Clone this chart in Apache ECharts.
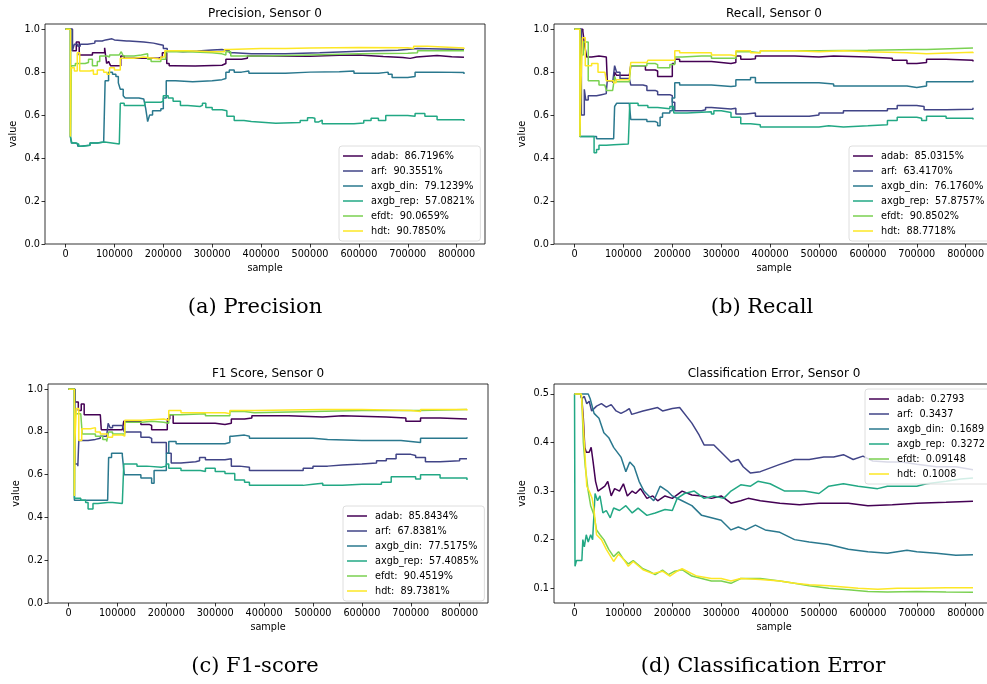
<!DOCTYPE html>
<html>
<head>
<meta charset="utf-8">
<script src="https://cdn.jsdelivr.net/npm/echarts@6/dist/echarts.min.js"></script>
<style>
  html, body { margin: 0; padding: 0; background: #fff; }
  #chart { width: 987px; height: 684px; }
</style>
</head>
<body>
<div id="chart"></div>
<script>
// model names and legend texts
const models = ['adab', 'arf', 'axgb_din', 'axgb_rep', 'efdt', 'hdt']
const colors = ['#440154', '#414487', '#2a788e', '#22a884', '#7ad151', '#fde725']

const precLabels = ['adab:  86.7196%', 'arf:  90.3551%', 'axgb_din:  79.1239%', 'axgb_rep:  57.0821%', 'efdt:  90.0659%', 'hdt:  90.7850%']
const recLabels = ['adab:  85.0315%', 'arf:  63.4170%', 'axgb_din:  76.1760%', 'axgb_rep:  57.8757%', 'efdt:  90.8502%', 'hdt:  88.7718%']
const f1Labels = ['adab:  85.8434%', 'arf:  67.8381%', 'axgb_din:  77.5175%', 'axgb_rep:  57.4085%', 'efdt:  90.4519%', 'hdt:  89.7381%']
const errLabels = ['adab:  0.2793', 'arf:  0.3437', 'axgb_din:  0.1689', 'axgb_rep:  0.3272', 'efdt:  0.09148', 'hdt:  0.1008']

const xTicks = [0, 100000, 200000, 300000, 400000, 500000, 600000, 700000, 800000]
const scoreTicks = [0, 0.2, 0.4, 0.6, 0.8, 1.0]
const errTicks = [0.1, 0.2, 0.3, 0.4, 0.5]

// Precision
const precAdab = [[0,1],[14000,0.9],[22000,0.94],[28000,0.88],[55000,0.89],[80000,0.913],[84000,0.84],[88000,0.85],[92000,0.83],[113000,0.875],[120000,0.865],[190000,0.87],[198000,0.89],[207000,0.84],[212000,0.83],[220000,0.828],[265000,0.832],[320000,0.84],[328000,0.86],[360000,0.865],[372000,0.875],[420000,0.874],[500000,0.878],[560000,0.88],[600000,0.873],[650000,0.868],[690000,0.864],[705000,0.87],[718000,0.877],[760000,0.872],[790000,0.869],[815000,0.867]]
const precArf = [[0,1],[14000,0.9],[18000,0.93],[25000,0.92],[30000,0.93],[45000,0.935],[60000,0.945],[75000,0.95],[82000,0.955],[95000,0.95],[100000,0.945],[125000,0.945],[130000,0.94],[160000,0.935],[180000,0.93],[190000,0.925],[200000,0.91],[208000,0.9],[215000,0.895],[240000,0.898],[270000,0.903],[300000,0.905],[320000,0.9],[335000,0.89],[345000,0.885],[380000,0.885],[450000,0.89],[520000,0.897],[600000,0.902],[680000,0.91],[720000,0.905],[815000,0.904]]
const precDin = [[0,1],[10000,0.5],[12000,0.47],[20000,0.465],[25000,0.455],[30000,0.46],[50000,0.47],[65000,0.475],[78000,0.47],[81000,0.76],[88000,0.8],[96000,0.79],[103000,0.78],[108000,0.75],[112000,0.72],[118000,0.69],[122000,0.68],[150000,0.675],[160000,0.68],[164000,0.63],[168000,0.57],[172000,0.6],[178000,0.62],[195000,0.63],[200000,0.68],[206000,0.76],[225000,0.755],[260000,0.76],[300000,0.765],[320000,0.77],[328000,0.8],[335000,0.81],[345000,0.8],[360000,0.805],[375000,0.795],[450000,0.8],[500000,0.802],[560000,0.805],[590000,0.795],[640000,0.8],[660000,0.79],[668000,0.775],[700000,0.78],[715000,0.8],[760000,0.798],[815000,0.791]]
const precRep = [[0,1],[10000,0.5],[13000,0.47],[22000,0.465],[27000,0.455],[35000,0.46],[50000,0.47],[65000,0.475],[80000,0.47],[95000,0.465],[110000,0.47],[112000,0.655],[120000,0.645],[150000,0.645],[162000,0.66],[195000,0.665],[200000,0.69],[210000,0.68],[220000,0.665],[235000,0.645],[250000,0.64],[275000,0.645],[280000,0.655],[287000,0.635],[300000,0.625],[320000,0.62],[330000,0.595],[345000,0.575],[365000,0.57],[380000,0.562],[430000,0.565],[480000,0.575],[495000,0.588],[505000,0.585],[510000,0.568],[518000,0.577],[525000,0.56],[590000,0.563],[610000,0.575],[625000,0.585],[640000,0.575],[655000,0.598],[700000,0.595],[715000,0.607],[735000,0.595],[760000,0.578],[815000,0.572]]
const precEfdt = [[0,1],[10000,0.5],[12000,0.83],[20000,0.84],[40000,0.845],[47000,0.86],[55000,0.83],[65000,0.85],[70000,0.875],[85000,0.87],[90000,0.88],[110000,0.875],[114000,0.895],[118000,0.875],[140000,0.88],[155000,0.885],[168000,0.86],[175000,0.85],[195000,0.86],[205000,0.895],[250000,0.89],[300000,0.885],[320000,0.88],[328000,0.895],[338000,0.875],[400000,0.88],[500000,0.885],[600000,0.888],[700000,0.89],[720000,0.9],[815000,0.901]]
const precHdt = [[0,1],[10000,0.5],[11000,0.82],[18000,0.805],[24000,0.89],[29000,0.805],[50000,0.81],[57000,0.79],[65000,0.81],[78000,0.8],[85000,0.79],[90000,0.82],[100000,0.81],[112000,0.865],[140000,0.87],[160000,0.865],[180000,0.86],[195000,0.87],[203000,0.9],[250000,0.895],[300000,0.895],[325000,0.905],[335000,0.91],[400000,0.91],[450000,0.912],[500000,0.915],[600000,0.913],[700000,0.91],[712000,0.92],[740000,0.912],[815000,0.908]]

// Recall
const recAdab = [[0,1],[17000,0.99],[21000,0.92],[25000,0.87],[35000,0.875],[50000,0.87],[65000,0.865],[67000,0.76],[80000,0.76],[82000,0.8],[86000,0.785],[112000,0.785],[115000,0.83],[140000,0.83],[145000,0.81],[165000,0.805],[170000,0.78],[195000,0.78],[200000,0.84],[205000,0.86],[215000,0.85],[260000,0.85],[280000,0.845],[300000,0.84],[320000,0.845],[330000,0.875],[340000,0.86],[360000,0.862],[370000,0.875],[450000,0.87],[500000,0.875],[530000,0.87],[600000,0.865],[650000,0.855],[680000,0.84],[700000,0.845],[720000,0.86],[760000,0.855],[815000,0.85]]
const recArf = [[0,1],[14000,0.6],[20000,0.72],[23000,0.67],[28000,0.69],[45000,0.695],[55000,0.7],[65000,0.71],[67000,0.76],[78000,0.75],[82000,0.83],[86000,0.8],[93000,0.77],[112000,0.77],[115000,0.74],[140000,0.735],[148000,0.715],[165000,0.71],[170000,0.695],[195000,0.69],[200000,0.66],[205000,0.62],[230000,0.62],[260000,0.625],[268000,0.635],[280000,0.628],[320000,0.632],[330000,0.605],[350000,0.61],[370000,0.595],[450000,0.595],[480000,0.6],[500000,0.61],[550000,0.62],[600000,0.62],[640000,0.63],[660000,0.645],[700000,0.64],[715000,0.625],[760000,0.627],[815000,0.634]]
const recDin = [[0,1],[11000,0.5],[40000,0.5],[45000,0.49],[80000,0.495],[82000,0.64],[86000,0.655],[112000,0.65],[115000,0.58],[140000,0.58],[148000,0.57],[165000,0.565],[170000,0.55],[175000,0.59],[180000,0.61],[195000,0.62],[200000,0.68],[205000,0.75],[215000,0.74],[260000,0.74],[280000,0.733],[320000,0.735],[330000,0.765],[360000,0.775],[370000,0.75],[450000,0.75],[500000,0.745],[530000,0.735],[600000,0.735],[650000,0.735],[680000,0.728],[700000,0.735],[720000,0.755],[815000,0.762]]
const recRep = [[0,1],[11000,0.5],[35000,0.5],[40000,0.425],[45000,0.44],[50000,0.46],[65000,0.462],[80000,0.465],[110000,0.47],[113000,0.655],[130000,0.645],[150000,0.635],[170000,0.63],[195000,0.64],[203000,0.61],[230000,0.615],[280000,0.605],[285000,0.62],[300000,0.612],[320000,0.59],[340000,0.56],[360000,0.555],[380000,0.545],[450000,0.545],[500000,0.55],[520000,0.545],[550000,0.55],[600000,0.555],[640000,0.575],[660000,0.59],[700000,0.585],[710000,0.575],[720000,0.595],[760000,0.585],[815000,0.579]]
const recEfdt = [[0,1],[11000,0.5],[13000,0.88],[18000,0.94],[28000,0.76],[45000,0.76],[50000,0.74],[62000,0.74],[65000,0.715],[78000,0.72],[82000,0.78],[86000,0.755],[112000,0.75],[115000,0.83],[148000,0.84],[165000,0.835],[170000,0.82],[195000,0.835],[205000,0.87],[220000,0.875],[260000,0.875],[280000,0.865],[320000,0.865],[330000,0.895],[360000,0.89],[380000,0.9],[500000,0.902],[600000,0.905],[700000,0.905],[720000,0.912],[815000,0.909]]
const recHdt = [[0,1],[11000,0.5],[13000,0.73],[16000,0.96],[22000,0.83],[35000,0.84],[48000,0.8],[62000,0.8],[65000,0.76],[80000,0.75],[85000,0.765],[112000,0.76],[115000,0.845],[148000,0.845],[150000,0.855],[195000,0.855],[205000,0.9],[215000,0.89],[260000,0.89],[280000,0.88],[320000,0.875],[330000,0.9],[360000,0.89],[380000,0.9],[450000,0.895],[500000,0.9],[550000,0.895],[600000,0.89],[680000,0.885],[720000,0.893],[815000,0.888]]

// F1 score
const f1Adab = [[0,1],[13000,0.94],[20000,0.9],[26000,0.93],[32000,0.88],[65000,0.875],[67000,0.81],[110000,0.81],[113000,0.85],[140000,0.85],[148000,0.835],[165000,0.83],[170000,0.81],[195000,0.81],[202000,0.86],[207000,0.88],[214000,0.84],[280000,0.84],[300000,0.835],[320000,0.84],[333000,0.86],[360000,0.865],[375000,0.875],[450000,0.87],[520000,0.875],[560000,0.87],[650000,0.865],[690000,0.85],[705000,0.85],[720000,0.865],[760000,0.86],[815000,0.858]]
const f1Arf = [[0,1],[13000,0.65],[19000,0.64],[21000,0.76],[40000,0.765],[55000,0.77],[65000,0.78],[78000,0.78],[81000,0.84],[85000,0.82],[90000,0.83],[110000,0.835],[114000,0.8],[140000,0.8],[148000,0.775],[165000,0.77],[170000,0.75],[195000,0.75],[200000,0.7],[210000,0.655],[230000,0.66],[260000,0.665],[268000,0.68],[280000,0.67],[320000,0.675],[333000,0.64],[350000,0.635],[370000,0.62],[450000,0.62],[480000,0.63],[500000,0.64],[530000,0.645],[560000,0.65],[600000,0.655],[630000,0.665],[650000,0.675],[670000,0.695],[700000,0.69],[710000,0.68],[730000,0.66],[760000,0.665],[800000,0.675],[815000,0.678]]
const f1Din = [[0,1],[12000,0.48],[80000,0.48],[82000,0.68],[88000,0.7],[110000,0.69],[114000,0.6],[140000,0.6],[148000,0.585],[165000,0.585],[170000,0.56],[175000,0.62],[195000,0.62],[200000,0.7],[205000,0.755],[220000,0.745],[300000,0.745],[320000,0.75],[330000,0.78],[335000,0.785],[360000,0.78],[370000,0.77],[450000,0.77],[500000,0.765],[530000,0.76],[600000,0.76],[680000,0.755],[700000,0.75],[720000,0.77],[815000,0.775]]
const f1Rep = [[0,1],[12000,0.49],[25000,0.48],[35000,0.47],[40000,0.44],[50000,0.465],[60000,0.47],[80000,0.47],[90000,0.465],[110000,0.47],[113000,0.65],[140000,0.64],[160000,0.635],[190000,0.64],[200000,0.65],[205000,0.63],[230000,0.62],[270000,0.615],[280000,0.63],[300000,0.615],[320000,0.605],[340000,0.575],[360000,0.565],[370000,0.55],[450000,0.55],[480000,0.555],[500000,0.56],[520000,0.55],[560000,0.555],[600000,0.555],[640000,0.565],[660000,0.59],[700000,0.59],[710000,0.58],[720000,0.6],[760000,0.585],[815000,0.575]]
const f1Efdt = [[0,1],[12000,0.5],[13000,0.885],[25000,0.88],[28000,0.79],[45000,0.79],[55000,0.78],[70000,0.765],[78000,0.755],[82000,0.8],[90000,0.79],[110000,0.79],[115000,0.845],[150000,0.85],[170000,0.845],[195000,0.84],[205000,0.88],[230000,0.885],[280000,0.875],[320000,0.875],[330000,0.895],[360000,0.89],[380000,0.895],[500000,0.9],[600000,0.9],[700000,0.9],[720000,0.905],[815000,0.905]]
const f1Hdt = [[0,1],[12000,0.5],[13000,0.76],[16000,0.91],[21000,0.76],[27000,0.815],[45000,0.82],[55000,0.8],[65000,0.79],[80000,0.775],[90000,0.785],[110000,0.78],[115000,0.855],[150000,0.86],[195000,0.855],[205000,0.9],[230000,0.89],[320000,0.885],[330000,0.9],[380000,0.905],[520000,0.905],[600000,0.9],[700000,0.895],[720000,0.905],[815000,0.9]]

// Classification error
const errAdab = [[0,0.5],[12000,0.5],[15000,0.49],[18000,0.45],[21000,0.39],[24000,0.38],[30000,0.38],[34000,0.39],[38000,0.36],[43000,0.32],[48000,0.3],[55000,0.305],[62000,0.31],[68000,0.32],[75000,0.29],[82000,0.305],[92000,0.3],[100000,0.315],[108000,0.29],[118000,0.3],[125000,0.295],[135000,0.305],[148000,0.285],[160000,0.29],[170000,0.28],[185000,0.29],[200000,0.285],[220000,0.3],[240000,0.292],[260000,0.29],[280000,0.285],[300000,0.29],[320000,0.275],[340000,0.28],[355000,0.285],[380000,0.28],[420000,0.275],[460000,0.272],[500000,0.275],[560000,0.275],[600000,0.27],[650000,0.272],[700000,0.275],[760000,0.277],[815000,0.279]]
const errArf = [[0,0.5],[12000,0.5],[15000,0.49],[20000,0.495],[25000,0.48],[30000,0.485],[35000,0.465],[45000,0.475],[55000,0.48],[65000,0.473],[75000,0.478],[85000,0.465],[95000,0.46],[105000,0.465],[112000,0.47],[117000,0.458],[140000,0.465],[170000,0.472],[180000,0.465],[200000,0.47],[215000,0.472],[240000,0.44],[255000,0.415],[265000,0.395],[285000,0.395],[300000,0.38],[320000,0.36],[335000,0.365],[345000,0.35],[360000,0.337],[380000,0.34],[420000,0.355],[450000,0.365],[480000,0.365],[510000,0.37],[530000,0.37],[550000,0.375],[570000,0.365],[590000,0.372],[610000,0.362],[640000,0.36],[670000,0.36],[700000,0.355],[740000,0.35],[780000,0.35],[815000,0.344]]
const errDin = [[0,0.5],[28000,0.5],[32000,0.49],[40000,0.46],[50000,0.45],[60000,0.42],[70000,0.41],[80000,0.39],[95000,0.37],[105000,0.34],[113000,0.36],[122000,0.35],[132000,0.32],[142000,0.3],[152000,0.29],[162000,0.28],[175000,0.31],[190000,0.3],[200000,0.29],[220000,0.28],[240000,0.27],[260000,0.25],[280000,0.245],[300000,0.24],[320000,0.22],[335000,0.226],[350000,0.22],[370000,0.23],[390000,0.22],[420000,0.215],[450000,0.2],[480000,0.195],[520000,0.19],[560000,0.18],[600000,0.175],[640000,0.172],[680000,0.178],[700000,0.175],[740000,0.172],[780000,0.168],[815000,0.169]]
const errRep = [[0,0.5],[1000,0.145],[4000,0.157],[15000,0.157],[17000,0.2],[20000,0.185],[24000,0.21],[28000,0.195],[33000,0.21],[37000,0.2],[42000,0.295],[47000,0.28],[52000,0.29],[58000,0.255],[65000,0.26],[73000,0.245],[80000,0.265],[92000,0.26],[105000,0.27],[118000,0.255],[130000,0.265],[148000,0.25],[165000,0.255],[185000,0.262],[200000,0.26],[210000,0.285],[225000,0.295],[245000,0.3],[265000,0.285],[285000,0.29],[305000,0.285],[320000,0.3],[340000,0.313],[360000,0.31],[375000,0.32],[400000,0.315],[430000,0.3],[470000,0.3],[500000,0.295],[520000,0.31],[550000,0.315],[580000,0.31],[620000,0.305],[640000,0.31],[680000,0.31],[700000,0.31],[720000,0.315],[760000,0.32],[790000,0.325],[815000,0.327]]
const errEfdt = [[0,0.5],[12000,0.5],[15000,0.49],[18000,0.4],[22000,0.35],[28000,0.3],[33000,0.27],[40000,0.25],[45000,0.22],[52000,0.21],[60000,0.2],[70000,0.18],[80000,0.165],[90000,0.175],[100000,0.16],[110000,0.15],[120000,0.157],[140000,0.14],[152000,0.135],[165000,0.128],[180000,0.137],[192000,0.128],[205000,0.135],[220000,0.138],[240000,0.125],[260000,0.12],[280000,0.115],[300000,0.115],[320000,0.11],[340000,0.12],[380000,0.12],[420000,0.115],[450000,0.11],[480000,0.105],[520000,0.1],[560000,0.097],[600000,0.093],[640000,0.092],[700000,0.093],[760000,0.092],[815000,0.0915]]
const errHdt = [[0,0.5],[14000,0.5],[20000,0.4],[25000,0.31],[30000,0.3],[36000,0.285],[40000,0.26],[45000,0.21],[55000,0.2],[65000,0.18],[80000,0.155],[90000,0.17],[100000,0.16],[110000,0.145],[120000,0.155],[140000,0.138],[160000,0.13],[180000,0.135],[195000,0.125],[210000,0.135],[220000,0.14],[250000,0.125],[280000,0.12],[300000,0.12],[320000,0.115],[340000,0.12],[380000,0.118],[420000,0.115],[450000,0.11],[480000,0.107],[520000,0.105],[580000,0.1],[620000,0.098],[660000,0.1],[700000,0.1],[760000,0.101],[815000,0.101]]

const panels = [
  {title: 'Precision, Sensor 0', caption: '(a) Precision', labels: precLabels, data: [precAdab, precArf, precDin, precRep, precEfdt, precHdt], step: 'end', yMin: 0, yMax: 1.024, yTicks: scoreTicks,
    grid: {left: 45, top: 24, width: 440, height: 220}, legend: {left: 339, top: 146, padRight: 6}, cap: [255, 308]},
  {title: 'Recall, Sensor 0', caption: '(b) Recall', labels: recLabels, data: [recAdab, recArf, recDin, recRep, recEfdt, recHdt], step: 'end', yMin: 0, yMax: 1.024, yTicks: scoreTicks,
    grid: {left: 554, top: 24, width: 440, height: 220}, legend: {left: 849, top: 146, padRight: 14}, cap: [762, 308]},
  {title: 'F1 Score, Sensor 0', caption: '(c) F1-score', labels: f1Labels, data: [f1Adab, f1Arf, f1Din, f1Rep, f1Efdt, f1Hdt], step: 'end', yMin: 0, yMax: 1.024, yTicks: scoreTicks,
    grid: {left: 48, top: 384, width: 440, height: 219}, legend: {left: 343, top: 506, padRight: 6}, cap: [255, 667]},
  {title: 'Classification Error, Sensor 0', caption: '(d) Classification Error', labels: errLabels, data: [errAdab, errArf, errDin, errRep, errEfdt, errHdt], step: false, yMin: 0.0695, yMax: 0.5205, yTicks: errTicks,
    grid: {left: 554, top: 384, width: 440, height: 219}, legend: {left: 865, top: 389, padRight: 14}, cap: [763, 667]},
]

const tickFont = {fontFamily: 'DejaVu Sans', fontSize: 9.7, color: '#000'}

const option = {
  animation: false,
  backgroundColor: '#fff',
  grid: [],
  xAxis: [],
  yAxis: [],
  legend: [],
  series: [],
  graphic: [],
}

panels.forEach((p, i) => {
  option.grid.push(Object.assign({show: true, borderColor: '#000', borderWidth: 0.8, outerBoundsMode: 'none'}, p.grid))

  option.xAxis.push({
    type: 'value', gridIndex: i, min: -42000, max: 858000,
    name: 'sample', nameLocation: 'middle', nameGap: 19, nameTextStyle: tickFont,
    axisLine: {show: false, onZero: false},
    axisTick: {show: true, length: 3.5, lineStyle: {color: '#000', width: 0.8}, customValues: xTicks},
    axisLabel: Object.assign({margin: 5, customValues: xTicks, formatter: v => String(v)}, tickFont),
    splitLine: {show: false},
  })

  option.yAxis.push({
    type: 'value', gridIndex: i, min: p.yMin, max: p.yMax,
    name: 'value', nameLocation: 'middle', nameGap: 27, nameTextStyle: tickFont,
    axisLine: {show: false, onZero: false},
    axisTick: {show: true, length: 3.5, lineStyle: {color: '#000', width: 0.8}, customValues: p.yTicks},
    axisLabel: Object.assign({margin: 5, customValues: p.yTicks, formatter: v => v.toFixed(1)}, tickFont),
    splitLine: {show: false},
  })

  option.legend.push({
    orient: 'vertical', left: p.legend.left, top: p.legend.top,
    data: p.labels, icon: 'rect', itemWidth: 20, itemHeight: 1.5, itemGap: 3,
    padding: [4, p.legend.padRight, 4, 4],
    backgroundColor: 'rgba(255,255,255,0.8)', borderColor: '#d6d6d6', borderWidth: 0.8, borderRadius: 3,
    textStyle: {fontFamily: 'DejaVu Sans', fontSize: 9.7, color: '#000', lineHeight: 12, padding: [0, 0, 0, 3]},
    selectedMode: false,
  })

  p.data.forEach((d, j) => {
    option.series.push({
      type: 'line', name: p.labels[j], xAxisIndex: i, yAxisIndex: i,
      data: d, step: p.step, showSymbol: false, symbol: 'none',
      lineStyle: {color: colors[j], width: 1.5}, itemStyle: {color: colors[j]},
    })
  })

  const g = p.grid
  option.graphic.push({
    type: 'text', x: g.left + g.width / 2, y: g.top - 10,
    style: {text: p.title, fontFamily: 'DejaVu Sans', fontSize: 12, fill: '#000', align: 'center', verticalAlign: 'middle'},
  })
  option.graphic.push({
    type: 'text', x: p.cap[0], y: p.cap[1],
    style: {text: p.caption, fontFamily: 'DejaVu Serif', fontSize: 21, fill: '#000', align: 'center', verticalAlign: 'middle'},
  })
})

const chart = echarts.init(document.getElementById('chart'))
chart.setOption(option)
</script>
</body>
</html>
